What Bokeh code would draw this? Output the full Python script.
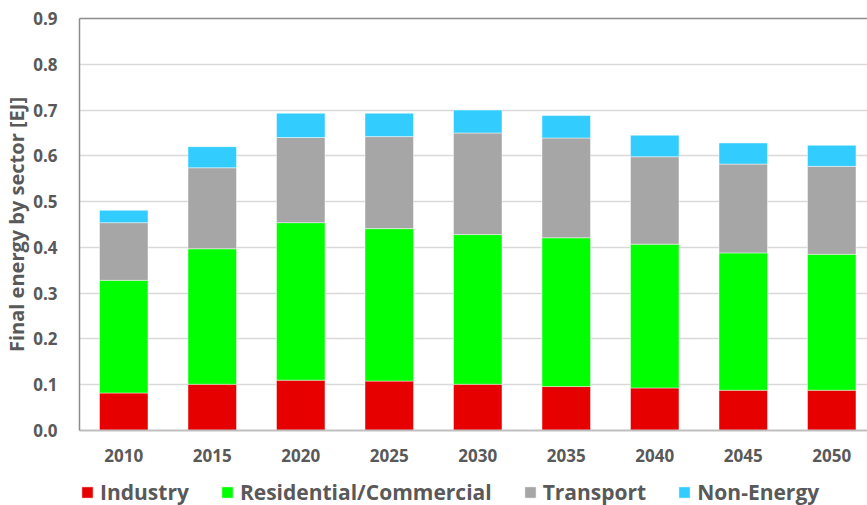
from bokeh.plotting import figure
from bokeh.layouts import column
from bokeh.models import (ColumnDataSource, Legend, LegendItem, FixedTicker, Range1d,
                          LinearAxis, NumeralTickFormatter, SingleIntervalTicker)
from bokeh.embed import file_html
from bokeh.resources import INLINE

# Final energy demand by sector [EJ]
years = ["2010", "2015", "2020", "2025", "2030", "2035", "2040", "2045", "2050"]
industry = [0.082, 0.101, 0.110, 0.108, 0.101, 0.096, 0.093, 0.088, 0.088]
residential = [0.246, 0.296, 0.344, 0.333, 0.327, 0.325, 0.314, 0.300, 0.297]
transport = [0.126, 0.177, 0.186, 0.201, 0.222, 0.218, 0.191, 0.194, 0.192]
non_energy = [0.027, 0.046, 0.053, 0.051, 0.050, 0.049, 0.047, 0.046, 0.046]

sectors = ["Industry", "Residential/Commercial", "Transport", "Non-Energy"]
colors = ["#e60000", "#00ff00", "#a6a6a6", "#33ccff"]
fields = ["industry", "residential", "transport", "non_energy"]

idx = list(range(len(years)))
src = ColumnDataSource(dict(x=idx, industry=industry, residential=residential,
                            transport=transport, non_energy=non_energy))

FONT = "Open Sans"
TXT = "#595959"
BAR_STYLE = dict(line_color="white", line_alpha=0.45, line_width=1)

p = figure(width=867, height=465, output_backend="svg", toolbar_location=None,
           x_range=Range1d(-0.5, 8.404), y_range=Range1d(0, 0.9),
           min_border_left=79, min_border_right=0, min_border_top=18,
           min_border_bottom=35, background_fill_color="white",
           border_fill_color="white", outline_line_color=None)

bars = p.vbar_stack(fields, x="x", width=0.548, source=src, fill_color=colors, **BAR_STYLE)

# axes
p.xaxis.ticker = FixedTicker(ticks=idx)
p.xaxis.major_label_overrides = {i: y for i, y in enumerate(years)}
p.xaxis.axis_line_color = "#bfbfbf"
p.xaxis.axis_line_width = 2
p.xaxis.major_tick_line_color = None
p.xaxis.minor_tick_line_color = None
p.xaxis.major_label_standoff = 12
p.xaxis.major_label_text_font = FONT
p.xaxis.major_label_text_font_style = "bold"
p.xaxis.major_label_text_font_size = "17px"
p.xaxis.major_label_text_color = TXT

p.yaxis.ticker = SingleIntervalTicker(interval=0.1)
p.yaxis.formatter = NumeralTickFormatter(format="0.0")
p.yaxis.axis_line_color = "#8c8c8c"
p.yaxis.axis_line_width = 1.5
p.yaxis.major_tick_line_color = None
p.yaxis.minor_tick_line_color = None
p.yaxis.major_label_standoff = 16
p.yaxis.major_label_text_font = FONT
p.yaxis.major_label_text_font_style = "bold"
p.yaxis.major_label_text_font_size = "17px"
p.yaxis.major_label_text_color = TXT
p.yaxis.axis_label = "Final energy by sector [EJ]"
p.yaxis.axis_label_text_font = FONT
p.yaxis.axis_label_text_font_style = "bold"
p.yaxis.axis_label_text_font_size = "20px"
p.yaxis.axis_label_text_color = TXT
p.yaxis.axis_label_standoff = 0

# top frame edge
top = LinearAxis(ticker=FixedTicker(ticks=[]), axis_line_color="#8c8c8c",
                 axis_line_width=1.5, major_tick_line_color=None,
                 minor_tick_line_color=None, major_label_standoff=0)
p.add_layout(top, "above")

p.xgrid.grid_line_color = None
p.ygrid.grid_line_color = "#d9d9d9"
p.ygrid.grid_line_width = 1.5

# legend strip below the chart; its stacked bars sit outside the visible range,
# so only the legend swatches and labels show
leg = figure(width=867, height=40, output_backend="svg", toolbar_location=None,
             x_range=Range1d(-0.5, 8.5), y_range=Range1d(5, 6),
             x_axis_location=None, y_axis_location=None,
             min_border=0, outline_line_color=None, background_fill_color="white",
             border_fill_color="white")
leg.grid.visible = False
swatches = leg.vbar_stack(fields, x="x", width=0.548, source=src, fill_color=colors,
                          **BAR_STYLE)
legend = Legend(items=[LegendItem(label=s, renderers=[r]) for s, r in zip(sectors, swatches)],
                orientation="horizontal", glyph_width=14, glyph_height=14,
                label_standoff=6, spacing=31, padding=0, margin=0,
                border_line_color=None, background_fill_alpha=0,
                label_text_font=FONT, label_text_font_style="bold",
                label_text_font_size="21px", label_text_color=TXT,
                location=(1, -1))
leg.add_layout(legend)

layout = column(p, leg, spacing=0)
open("out.html", "w").write(file_html(layout, INLINE))
